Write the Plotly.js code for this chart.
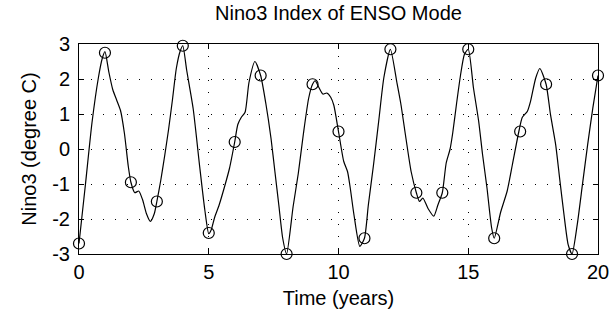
<!DOCTYPE html>
<html>
<head>
<meta charset="utf-8">
<script src="https://cdn.plot.ly/plotly-3.0.1.min.js"></script>
<style>
  html, body { margin: 0; padding: 0; background: #fff; }
  #chart { width: 612px; height: 324px; }
</style>
</head>
<body>
<div id="chart"></div>
<script>
// Annual samples of the ENSO-mode Nino3 index (circles)
const yearT = [0, 1, 2, 3, 4, 5, 6, 7, 8, 9, 10, 11, 12, 13, 14, 15, 16, 17, 18, 19, 20];
const ninoAnnual = [-2.7, 2.75, -0.95, -1.5, 2.95, -2.4, 0.2, 2.1, -3.0, 1.85, 0.5,
                    -2.55, 2.85, -1.25, -1.25, 2.85, -2.55, 0.5, 1.85, -3.0, 2.1];

// Sub-annual Nino3 index (continuous curve)
const curveT = [0.0, 0.25, 0.5, 0.75, 0.9, 1.0, 1.15, 1.3, 1.45, 1.6, 1.75, 1.9, 2.0,
  2.15, 2.3, 2.45, 2.6, 2.75, 2.9, 3.0, 3.15, 3.3, 3.45, 3.6, 3.75, 3.9, 4.0,
  4.15, 4.4, 4.65, 4.85, 5.0, 5.1, 5.22, 5.4, 5.6, 5.8, 6.0, 6.12, 6.25, 6.4, 6.55,
  6.78, 7.0, 7.2, 7.4, 7.55, 7.7, 7.85, 8.0, 8.25, 8.45, 8.65, 8.85, 9.0, 9.1, 9.25,
  9.4, 9.55, 9.7, 9.82, 10.0, 10.2, 10.35, 10.45, 10.6, 10.82, 11.0, 11.15, 11.35,
  11.55, 11.75, 12.0, 12.25, 12.4, 12.6, 12.8, 13.0, 13.12, 13.25, 13.45, 13.67,
  13.83, 14.0, 14.15, 14.3, 14.4, 14.55, 14.7, 14.85, 15.0, 15.2, 15.4, 15.55, 15.72,
  15.9, 16.0, 16.25, 16.5, 16.7, 16.95, 17.08, 17.28, 17.4, 17.6, 17.76, 18.0, 18.17,
  18.37, 18.52, 18.69, 18.85, 19.0, 19.2, 19.4, 19.6, 19.8, 20.0];
const curveV = [-2.7, -1.0, 0.75, 2.05, 2.6, 2.78, 2.2, 1.7, 1.4, 1.1, 0.45, -0.5, -0.95,
  -1.25, -1.2, -1.45, -1.85, -2.07, -1.85, -1.5, -0.9, -0.2, 0.55, 1.4, 2.3, 2.8, 2.95,
  2.25, 1.15, -0.5, -1.75, -2.42, -2.3, -1.97, -1.6, -1.1, -0.55, 0.2, 0.7, 0.9, 1.05, 1.9,
  2.5, 2.1, 1.3, 0.3, -0.65, -1.6, -2.55, -3.0, -1.65, -0.7, 0.45, 1.45, 1.85, 1.95, 1.75,
  1.57, 1.6, 1.48, 1.25, 0.5, -0.35, -0.65, -1.1, -1.9, -2.78, -2.55, -1.6, -0.45,
  0.8, 2.05, 2.85, 1.9, 1.3, 0.3, -0.65, -1.25, -1.5, -1.4, -1.7, -1.92,
  -1.6, -1.25, -0.4, 0.0, 0.45, 1.3, 2.1, 2.7, 2.85, 1.75, 0.8, -0.15, -1.1,
  -2.25, -2.55, -1.8, -1.2, -0.45, 0.5, 0.9, 1.08, 1.36, 2.03, 2.3, 1.85, 0.98,
  0.12, -0.83, -1.88, -2.73, -3.0, -2.16, -1.02, 0.12, 1.17, 2.1];

// Axis ticks
const xTickVals = [0, 5, 10, 15, 20];
const yTickVals = [-3, -2, -1, 0, 1, 2, 3];
const yTickText = ['-3', '-2', '-1', '0', '1', '2', '3'];

const font = { family: 'Liberation Sans, Arial, Helvetica, sans-serif', size: 20, color: '#000' };

const traces = [
  {
    x: curveT, y: curveV, type: 'scatter', mode: 'lines',
    line: { color: '#000', width: 1.2, shape: 'spline', smoothing: 0.6 },
    hoverinfo: 'skip'
  },
  {
    x: yearT, y: ninoAnnual, type: 'scatter', mode: 'markers',
    marker: { symbol: 'circle-open', size: 11, color: '#000', line: { width: 1.2, color: '#000' } },
    cliponaxis: false
  }
];

const axisCommon = {
  showline: true, linecolor: '#000', linewidth: 1, mirror: 'ticks',
  ticks: 'inside', ticklen: 5, tickcolor: '#000', tickwidth: 1,
  showgrid: true, gridcolor: '#000', gridwidth: 1, griddash: '1px,11px',
  zeroline: false, tickfont: font
};

const layout = {
  width: 612, height: 324,
  margin: { l: 79, r: 14, t: 44, b: 70 },
  paper_bgcolor: '#fff', plot_bgcolor: '#fff',
  showlegend: false,
  font: font,
  title: {
    text: 'Nino3 Index of ENSO Mode', font: font,
    x: 0.5, xref: 'paper', xanchor: 'center',
    y: 1 - 13 / 324, yref: 'container', yanchor: 'middle'
  },
  xaxis: Object.assign({}, axisCommon, {
    range: [0, 20], tickvals: xTickVals,
    ticklabelstandoff: 0,
    title: { text: 'Time (years)', font: font, standoff: 8 }
  }),
  yaxis: Object.assign({}, axisCommon, {
    range: [-3, 3], tickvals: yTickVals, ticktext: yTickText,
    ticklabelstandoff: 4,
    title: { text: 'Nino3 (degree C)', font: font, standoff: 10 }
  })
};

Plotly.newPlot('chart', traces, layout, { staticPlot: true, displayModeBar: false });
</script>
</body>
</html>
